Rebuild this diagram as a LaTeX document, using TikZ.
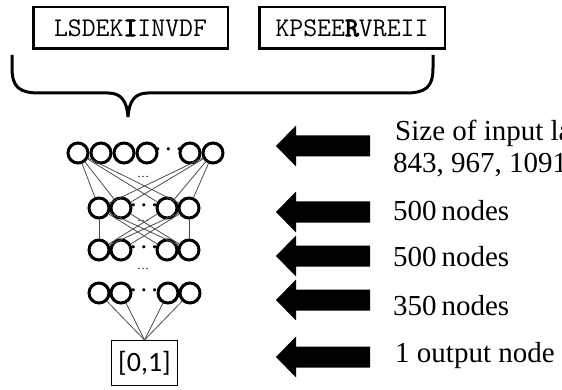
\documentclass[tikz,border=0pt]{standalone}
\usepackage{fontspec}
\setmainfont{Liberation Serif}
\newfontfamily\outfont{Carlito}
\newfontfamily\seqbold{Latin Modern Mono}[FakeBold=3]
\tikzset{
  neuron/.style={circle,draw,line width=3pt,fill=white,minimum size=20pt,inner sep=0pt},
  seqbox/.style={draw,line width=2.5pt,minimum height=41.5pt,inner sep=0pt,
    font=\ttfamily\fontsize{27}{27}\selectfont},
  link/.style={draw=black!70,line width=0.8pt},
  sizelabel/.style={anchor=base west,inner sep=0pt,font=\fontsize{29}{29}\selectfont},
  rowdots/.style={inner sep=0pt,font=\fontsize{22}{22}\selectfont\boldmath},
  layerdots/.style={inner sep=0pt,font=\fontsize{12}{12}\selectfont}
}
\begin{document}
\begin{tikzpicture}[x=1pt,y=-1pt]
  \useasboundingbox (0,0) rectangle (562,390);
  % input sequences
  \node[seqbox,minimum width=194.5pt] (seqA) at (130.5,28) {LSDEK{\seqbold I}INVDF};
  \node[seqbox,minimum width=185.5pt] (seqB) at (352,28) {KPSEE{\seqbold R}VREII};
  % brace
  \draw[line width=3pt] (12,55) -- (12,68) .. controls (12,88) and (20,93) .. (40,93)
    -- (108,93) .. controls (121,93) and (127,101) .. (128,117)
    .. controls (129,101) and (135,93) .. (148,93) -- (405,93)
    .. controls (425,93) and (433,88) .. (433,68) -- (433,55);
  % input layer
  \node[neuron] (i1) at (78,153) {};
  \node[neuron] (i2) at (101,153) {};
  \node[neuron] (i3) at (124,153) {};
  \node[neuron] (i4) at (147,153) {};
  \node[rowdots] (idots) at (168.5,150) {$\cdots$};
  \node[neuron] (i5) at (190,153) {};
  \node[neuron] (i6) at (213,153) {};
  % hidden layer 1
  \node[neuron] (a1) at (99,208) {};
  \node[neuron] (a2) at (121,208) {};
  \node[rowdots] (adots) at (144,206) {$\cdots$};
  \node[neuron] (a3) at (167,208) {};
  \node[neuron] (a4) at (189,208) {};
  % hidden layer 2
  \node[neuron] (b1) at (99,250) {};
  \node[neuron] (b2) at (121,250) {};
  \node[rowdots] (bdots) at (144,248) {$\cdots$};
  \node[neuron] (b3) at (167,250) {};
  \node[neuron] (b4) at (189,250) {};
  % hidden layer 3
  \node[neuron] (c1) at (99,293) {};
  \node[neuron] (c2) at (121,293) {};
  \node[rowdots] (cdots) at (144,291) {$\cdots$};
  \node[neuron] (c3) at (168,293) {};
  \node[neuron] (c4) at (190,293) {};
  % more layers
  \node[layerdots] (d1) at (143,177) {\dots};
  \node[layerdots] (d2) at (143,221) {\dots};
  \node[layerdots] (d3) at (143,269) {\dots};
  % output
  \node[draw,line width=1pt,minimum width=66pt,minimum height=45pt,inner sep=0pt,
    font=\outfont\fontsize{28}{28}\selectfont] (out) at (144.5,363) {[0,1]};
  % connections
  \draw[link] (i1) -- (a1);
  \draw[link] (i1) -- (a2);
  \draw[link] (i1) -- (a3);
  \draw[link] (i1) -- (a4);
  \draw[link] (i6) -- (a1);
  \draw[link] (i6) -- (a2);
  \draw[link] (i6) -- (a3);
  \draw[link] (i6) -- (a4);
  \draw[link] (a1) -- (b1);
  \draw[link] (a1) -- (b3);
  \draw[link] (a1) -- (b4);
  \draw[link] (a2) -- (b4);
  \draw[link] (a4) -- (b4);
  \draw[link] (a4) -- (b1);
  \draw[link] (a4) -- (b2);
  \draw[link] (a3) -- (b1);
  \draw[link] (c1) -- (out.north);
  \draw[link] (c2) -- (out.north);
  \draw[link] (c3) -- (out.north);
  \draw[link] (c4) -- (out.north);
  % pointers
  \fill (276,146) -- (296,125.5) -- (296,135.5) -- (370,135.5) -- (370,156.5) -- (296,156.5) -- (296,166.5) -- cycle;
  \fill (276,212) -- (296,191.5) -- (296,201.5) -- (370,201.5) -- (370,222.5) -- (296,222.5) -- (296,232.5) -- cycle;
  \fill (276,256) -- (296,235.5) -- (296,245.5) -- (370,245.5) -- (370,266.5) -- (296,266.5) -- (296,276.5) -- cycle;
  \fill (276,300) -- (296,279.5) -- (296,289.5) -- (370,289.5) -- (370,310.5) -- (296,310.5) -- (296,320.5) -- cycle;
  \fill (276,357) -- (296,336.5) -- (296,346.5) -- (370,346.5) -- (370,367.5) -- (296,367.5) -- (296,377.5) -- cycle;
  % layer sizes
  \node[sizelabel] (s1) at (395,141) {Size of input la};
  \node[sizelabel] (s2) at (393,173) {843, 967, 1091};
  \node[sizelabel] (s3) at (393,221) {500\,nodes};
  \node[sizelabel] (s4) at (393,266) {500\,nodes};
  \node[sizelabel] (s5) at (393,315) {350\,nodes};
  \node[sizelabel] (s6) at (395,362) {1 output node};
\end{tikzpicture}
\end{document}
